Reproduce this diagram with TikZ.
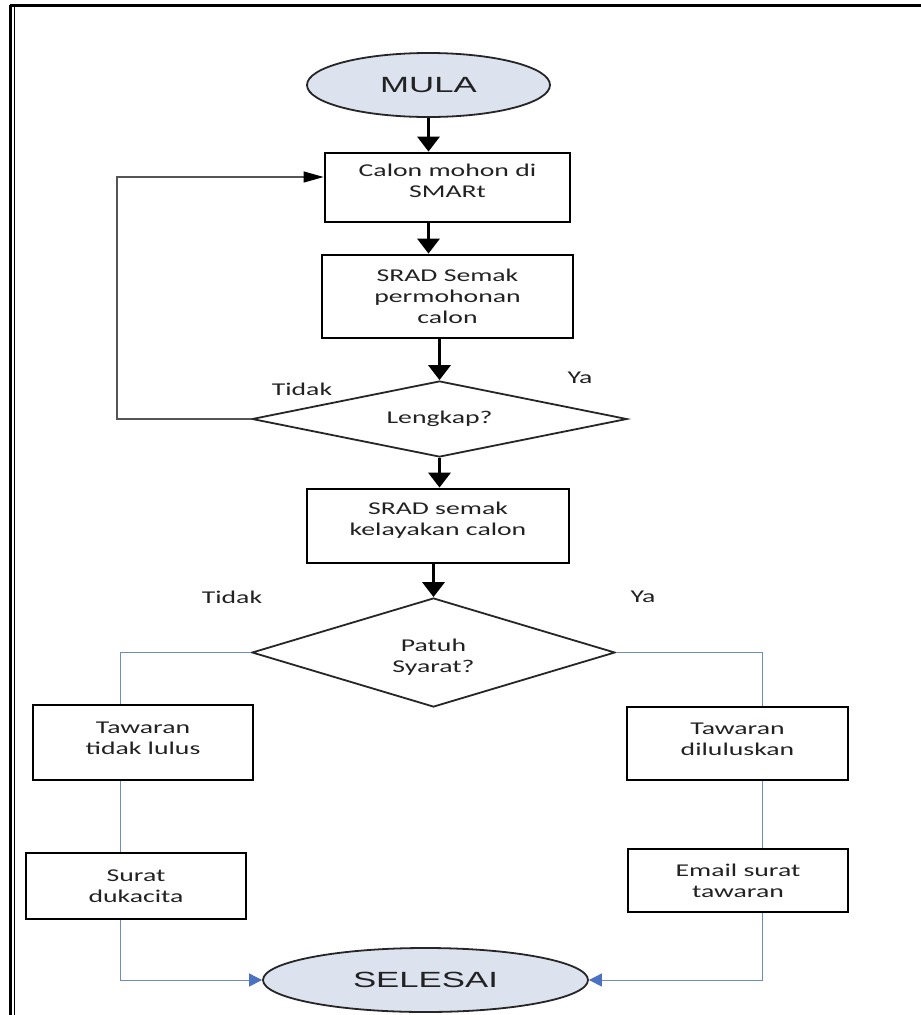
\documentclass[tikz,border=0pt]{standalone}
\usepackage{fontspec}
\newfontfamily\bodyf[FakeStretch=1.54]{Carlito}
\newfontfamily\headf[FakeStretch=1.58]{Liberation Sans}
\usetikzlibrary{shapes.geometric,arrows.meta}
\definecolor{ellfill}{HTML}{DCE2EE}
\definecolor{txtc}{HTML}{222222}
\definecolor{bluel}{HTML}{6F8CC0}
\definecolor{bluea}{HTML}{4A72C0}
\definecolor{loopc}{HTML}{555555}
\begin{document}
\begin{tikzpicture}[x=1pt,y=-1pt,
  stepbox/.style={draw=black,line width=2.8pt,inner sep=0pt,align=center,text=txtc,
    font=\bodyf\fontsize{18}{21}\selectfont},
  term/.style={ellipse,draw=black!85,line width=1.8pt,fill=ellfill,inner sep=0pt,text=txtc,
    font=\headf\fontsize{22}{26}\selectfont},
  dia/.style={diamond,draw=black!85,line width=1.8pt,inner sep=0pt},
  lbl/.style={text=txtc,font=\bodyf\fontsize{18}{21}\selectfont,align=center,inner sep=0pt},
  mainarr/.style={line width=3.4pt,-{Triangle[length=15pt,width=22pt]}},
  loopline/.style={draw=loopc,line width=1.2pt,-{Triangle[length=20pt,width=11pt,fill=black,color=black]}},
  blueline/.style={draw=bluel,line width=1pt},
  bluearr/.style={draw=bluel,line width=1pt,-{Triangle[length=13pt,width=13pt,color=bluea]}}
]
\useasboundingbox (0,0) rectangle (921,1015);
\fill[white] (0,0) rectangle (921,1015);
% frame
\draw[line width=2.6pt] (9.5,5.5) -- (921,5.5);
\draw[line width=2.2pt] (10.5,5) -- (10.5,1015);
\draw[line width=1pt] (14,5) -- (14,1015);

% terminals
\node[term,minimum width=243,minimum height=64] (mula) at (428.5,85) {MULA};
\node[term,minimum width=325,minimum height=64] (sel) at (425.5,980) {SELESAI};

% boxes
\node[stepbox,minimum width=245,minimum height=69] (b1) at (447.5,187.5) {Calon mohon di\\SMARt\\[-8pt]\mbox{}};
\node[stepbox,minimum width=251,minimum height=83] (b2) at (447.5,296.5) {SRAD Semak\\permohonan\\calon};
\node[stepbox,minimum width=262,minimum height=74] (b3) at (438,526) {SRAD semak\\kelayakan calon\\[-6pt]\mbox{}};
\node[stepbox,minimum width=220,minimum height=75] (b4) at (143,742.5) {Tawaran\\tidak lulus\\[-12pt]\mbox{}};
\node[stepbox,minimum width=221,minimum height=73] (b5) at (737.5,743.5) {Tawaran\\diluluskan\\[-12pt]\mbox{}};
\node[stepbox,minimum width=220,minimum height=66] (b6) at (136,886) {Surat\\dukacita};
\node[stepbox,minimum width=220,minimum height=63] (b7) at (738,880.5) {Email surat\\tawaran};

% decisions
\node[dia,minimum width=375,minimum height=76] (d1) at (439.5,419) {};
\node[lbl] (d1t) at (d1) {Lengkap?};
\node[dia,minimum width=363,minimum height=109] (d2) at (433.5,652.5) {};
\node[lbl] (d2t) at (433.5,657) {Patuh\\Syarat?};

% labels
\node[lbl] (t1) at (302,389) {Tidak};
\node[lbl] (y1) at (580,378) {Ya};
\node[lbl] (t2) at (232,597) {Tidak};
\node[lbl] (y2) at (643,597) {Ya};

% main arrows
\draw[mainarr] (mula.south) -- (mula.south |- b1.north);
\draw[mainarr] (b1.south -| mula.south) -- (mula.south |- b2.north);
\draw[mainarr] (b2.south -| d1.north) -- (d1.north);
\draw[mainarr] (d1.south) -- (d1.south |- b3.north);
\draw[mainarr] (b3.south -| d2.north) -- (d2.north);

% loop back
\coordinate (lc) at (117,177);
\draw[loopline] (d1.west) -| (lc) -- (lc -| b1.west);

% branches
\coordinate (lx) at (120,0);
\coordinate (rx) at (762,0);
\draw[blueline] (d2.west) -| (lx |- b4.north);
\draw[blueline] (lx |- b4.south) -- (lx |- b6.north);
\draw[bluearr] (lx |- b6.south) |- (sel.west);
\draw[blueline] (d2.east) -| (rx |- b5.north);
\draw[blueline] (rx |- b5.south) -- (rx |- b7.north);
\draw[bluearr] (rx |- b7.south) |- (sel.east);
\end{tikzpicture}
\end{document}
